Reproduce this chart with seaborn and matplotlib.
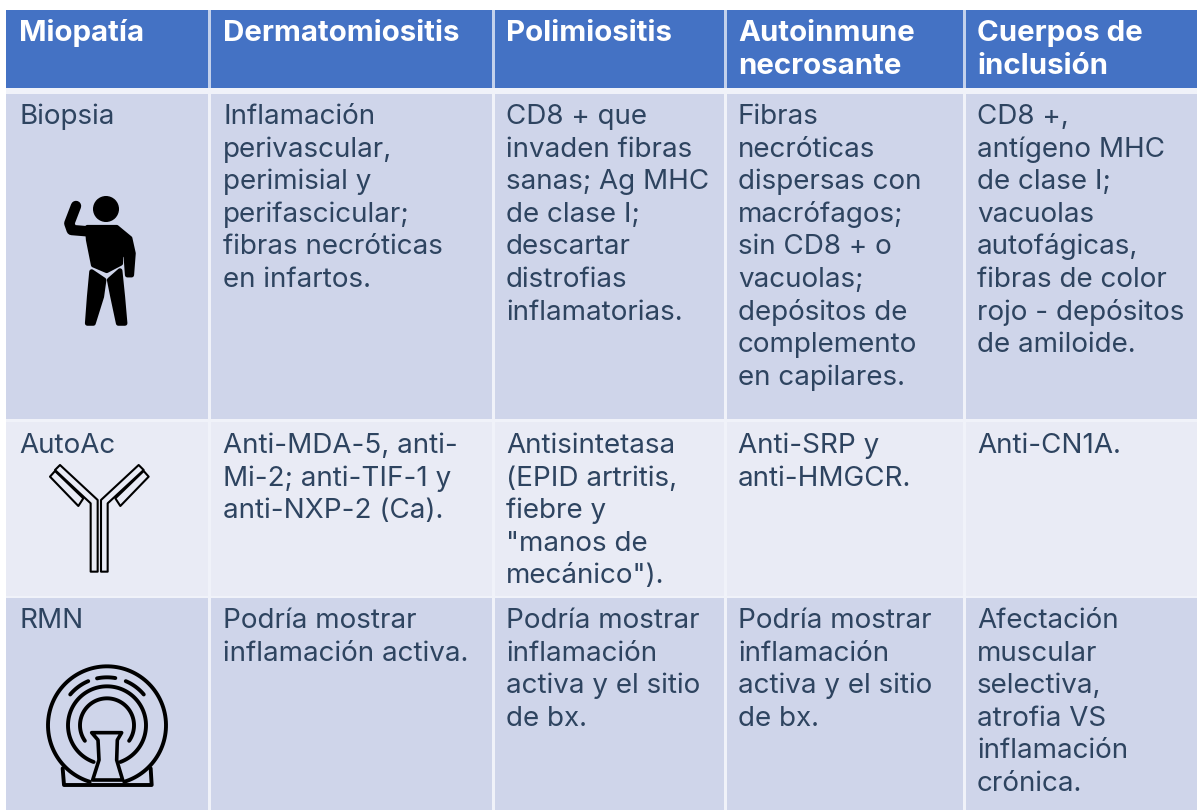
import numpy as np
import matplotlib.pyplot as plt
from matplotlib.colors import ListedColormap
from matplotlib.patches import Circle, Polygon
import seaborn as sns

# textos de la tabla
headers = ["Miopatía", "Dermatomiositis", "Polimiositis", "Autoinmune\nnecrosante", "Cuerpos de\ninclusión"]
row_biopsia = ["Biopsia",
               "Inflamación\nperivascular,\nperimisial y\nperifascicular;\nfibras necróticas\nen infartos.",
               "CD8 + que\ninvaden fibras\nsanas; Ag MHC\nde clase I;\ndescartar\ndistrofias\ninflamatorias.",
               "Fibras\nnecróticas\ndispersas con\nmacrófagos;\nsin CD8 + o\nvacuolas;\ndepósitos de\ncomplemento\nen capilares.",
               "CD8 +,\nantígeno MHC\nde clase I;\nvacuolas\nautofágicas,\nfibras de color\nrojo - depósitos\nde amiloide."]
row_autoac = ["AutoAc",
              "Anti-MDA-5, anti-\nMi-2; anti-TIF-1 y\nanti-NXP-2 (Ca).",
              "Antisintetasa\n(EPID artritis,\nfiebre y\n\"manos de\nmecánico\").",
              "Anti-SRP y\nanti-HMGCR.",
              "Anti-CN1A."]
row_rmn = ["RMN",
           "Podría mostrar\ninflamación activa.",
           "Podría mostrar\ninflamación\nactiva y el sitio\nde bx.",
           "Podría mostrar\ninflamación\nactiva y el sitio\nde bx.",
           "Afectación\nmuscular\nselectiva,\natrofia VS\ninflamación\ncrónica."]

# bordes de columnas y filas en pixeles
col_edges = [6, 208, 211, 492, 495, 724, 727, 963, 966, 1197]
row_edges = [10, 88, 94, 419, 422, 596, 598, 810]
col_text = [19, 223, 506, 738, 977]
row_text = [41, 124, 453, 628]
line_step = 32.6

TEXT = "#2e4460"
FS = 20
FS_HEAD = 21.2

sns.set_theme(style="white")
plt.rcParams['font.family'] = ['Inter', 'DejaVu Sans']

# 0 blanco, 1 azul, 2 oscuro, 3 claro, 4 separador, 5 separador cabecera
band = [1, 4, 2, 4, 3, 4, 2]
grid = np.zeros((810, 1197), dtype=int)
for r in range(len(row_edges) - 1):
    for c in range(len(col_edges) - 1):
        val = band[r]
        if c % 2 == 1:  # separador vertical
            val = 5 if r == 0 else 4
        grid[row_edges[r]:row_edges[r + 1], col_edges[c]:col_edges[c + 1]] = val

fig = plt.figure(figsize=(11.97, 8.10), dpi=100)
ax = fig.add_axes([0, 0, 1, 1])
sns.heatmap(grid, ax=ax, cbar=False, xticklabels=False, yticklabels=False,
            cmap=ListedColormap(["#ffffff", "#4472c4", "#cfd5ea", "#e9ebf5", "#f0f2f9", "#c3d1ec"]),
            vmin=-0.5, vmax=5.5)
ax.set_axis_off()

for i, h in enumerate(headers):
    for j, line in enumerate(h.split("\n")):
        ax.text(col_text[i], row_text[0] + j * line_step, line, color="white",
                fontsize=FS_HEAD, fontweight="bold", va="baseline")

for k, row in enumerate([row_biopsia, row_autoac, row_rmn]):
    for i, cell in enumerate(row):
        for j, line in enumerate(cell.split("\n")):
            ax.text(col_text[i], row_text[k + 1] + j * line_step, line, color=TEXT,
                    fontsize=FS, va="baseline")


def z1(points):
    return [(x / 3, y / 3) for x, y in points]


def z2(points):
    return [(x / 3, y / 3 + 410) for x, y in points]


# icono persona
ax.add_patch(Circle((106, 209), 12.3, color="black"))
ax.plot(*zip(*z1([(228, 618), (208, 670), (215, 690), (275, 695)])), color="black", lw=7.5,
        solid_capstyle="round", solid_joinstyle="round")
for shape in [[(262, 682), (350, 682), (390, 715), (400, 760), (395, 825), (382, 825), (378, 770),
               (362, 745), (362, 790), (320, 812), (280, 795), (265, 720)],
              [(275, 815), (312, 840), (305, 890), (280, 970), (262, 970), (268, 890)],
              [(360, 812), (328, 840), (338, 890), (355, 970), (375, 970), (368, 890)]]:
    ax.add_patch(Polygon(z1(shape), facecolor="black", edgecolor="black", lw=3.5, joinstyle="round"))

# icono anticuerpo
for chain in [[(272, 485), (293, 485), (293, 270), (180, 165), (165, 180), (272, 280)],
              [(150, 200), (165, 183), (250, 265), (235, 288)],
              [(323, 485), (303, 485), (303, 270), (416, 165), (431, 180), (323, 280)],
              [(446, 200), (431, 183), (346, 265), (361, 288)]]:
    ax.add_patch(Polygon(z2(chain), fill=False, edgecolor="black", lw=1.5, joinstyle="round"))

# icono resonancia
cx, cy = 321 / 3, 946 / 3 + 410


def arc(r, a0, a1, lw=2.8):
    t = np.radians(np.linspace(a0, a1, 120))
    ax.plot(cx + r * np.cos(t), cy - r * np.sin(t), color="black", lw=lw, solid_capstyle="round")


arc(59, -73, 253)
arc(39, -70, 250)
arc(27, -35, 215)
for a0, a1 in [(113, 140), (80, 102), (40, 67)]:
    arc(48, a0, a1)
ax.add_patch(Polygon(z2([(275, 968), (365, 968), (352, 990), (350, 1050), (368, 1110), (278, 1110), (297, 1050), (294, 990)]),
                     fill=False, edgecolor="black", lw=2.6, joinstyle="round"))
ax.plot(*zip(*z2([(188, 1075), (192, 1125), (455, 1125), (452, 1075)])), color="black", lw=2.8)

fig.savefig("out.png", dpi=100)
